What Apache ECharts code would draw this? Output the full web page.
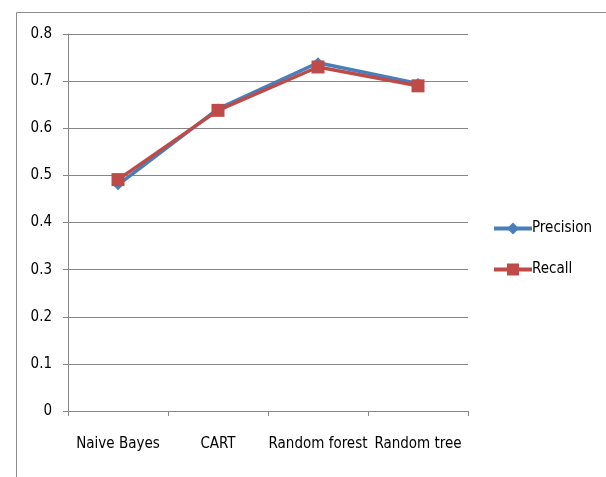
<!DOCTYPE html>
<html><head><meta charset="utf-8">
<script src="https://cdn.jsdelivr.net/npm/echarts@6/dist/echarts.min.js"></script>
<style>html,body{margin:0;padding:0;background:#fff}#c{width:606px;height:477px}</style>
</head><body><div id="c"></div>
<script>
const categories = ['Naive Bayes', 'CART', 'Random forest', 'Random tree'];
const precision = [0.48, 0.641, 0.739, 0.695];
const recall = [0.491, 0.638, 0.730, 0.690];
const yTicks = [0, 0.1, 0.2, 0.3, 0.4, 0.5, 0.6, 0.7, 0.8];

const FONT = '"Liberation Sans Narrow", "DejaVu Sans Condensed", "Liberation Sans", sans-serif';
const chart = echarts.init(document.getElementById('c'));
chart.setOption({
  animation: false,
  textStyle: { fontFamily: FONT },
  graphic: [{
    type: 'rect', left: 14, top: 10, silent: true,
    shape: { width: 590, height: 480 },
    style: { fill: 'none', stroke: '#8c8c8c', lineWidth: 1 }
  }],
  grid: { left: 68, right: 138, top: 34, bottom: 66 },
  legend: {
    orient: 'vertical', left: 487, top: 216, itemGap: 26,
    itemWidth: 38, itemHeight: 15,
    lineStyle: { width: 4 },
    textStyle: { fontFamily: FONT, fontSize: 15, color: '#000', padding: [0, 0, 0, -5] },
    data: ['Precision', 'Recall']
  },
  xAxis: {
    type: 'category', data: categories, boundaryGap: true,
    axisLine: { lineStyle: { color: '#868686', width: 1 } },
    axisTick: { show: true, length: 5, interval: 0, lineStyle: { color: '#868686' } },
    axisLabel: { color: '#000', fontSize: 15, fontFamily: FONT, margin: 26, interval: 0 }
  },
  yAxis: {
    type: 'value', min: 0, max: yTicks[yTicks.length - 1], interval: 0.1,
    axisLine: { show: true, lineStyle: { color: '#868686', width: 1 } },
    axisTick: { show: true, length: 5, lineStyle: { color: '#868686' } },
    splitLine: { lineStyle: { color: '#868686', width: 1 } },
    axisLabel: { color: '#000', fontSize: 15, fontFamily: FONT, margin: 16,
      formatter: v => String(Math.round(v * 10) / 10) }
  },
  series: [{
    name: 'Precision', type: 'line', data: precision,
    symbol: 'diamond', symbolSize: 11,
    lineStyle: { color: '#4A7EBB', width: 3.5 },
    itemStyle: { color: '#4A7EBB' }
  }, {
    name: 'Recall', type: 'line', data: recall,
    symbol: 'rect', symbolSize: 13,
    lineStyle: { color: '#BE4B48', width: 3.5 },
    itemStyle: { color: '#BE4B48' }
  }]
});
</script></body></html>
